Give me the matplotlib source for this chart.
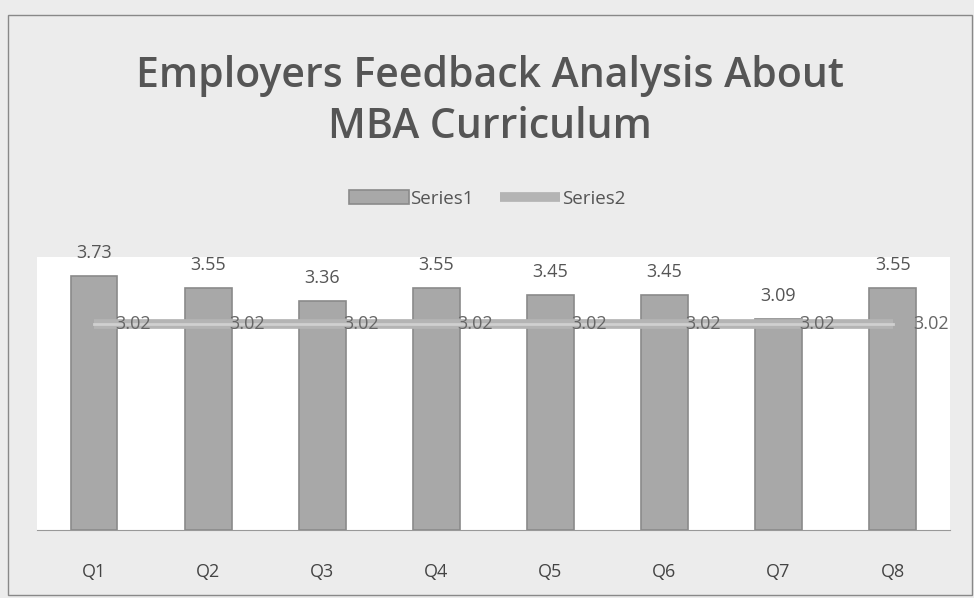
import matplotlib
matplotlib.use("Agg")
import matplotlib.pyplot as plt
import numpy as np

categories = ["Q1", "Q2", "Q3", "Q4", "Q5", "Q6", "Q7", "Q8"]
series1 = [3.73, 3.55, 3.36, 3.55, 3.45, 3.45, 3.09, 3.55]
series2 = [3.02, 3.02, 3.02, 3.02, 3.02, 3.02, 3.02, 3.02]

plt.rcParams['font.family'] = ['Open Sans', 'DejaVu Sans']

fig = plt.figure(figsize=(9.74, 5.98), dpi=100, facecolor='#ececec')
ax = fig.add_axes([0.038, 0.114, 0.937, 0.456])
ax.set_facecolor('white')

x = np.arange(len(categories))
bars = ax.bar(x, series1, width=0.41, color='#a8a8a8', edgecolor='#8a8a8a',
              linewidth=1.2, label='Series1', zorder=2)
line, = ax.plot(x, series2, color='#b4b4b4', linewidth=7, solid_capstyle='butt',
                label='Series2', zorder=3)
ax.plot(x, series2, color='#d0d0d0', linewidth=2, zorder=3)

for xi, v in zip(x, series1):
    ax.annotate(f"{v:.2f}", (xi, v), xytext=(0, 10), textcoords='offset points',
                ha='center', va='bottom', fontsize=13, color='#555555')
for xi, v in zip(x, series2):
    ax.annotate(f"{v:.2f}", (xi, v), xytext=(15, 0), textcoords='offset points',
                ha='left', va='center', fontsize=13, color='#666666', zorder=4)

ax.set_xlim(-0.5, len(categories) - 0.5)
ax.set_ylim(0, 4)
ax.set_yticks([])
ax.set_xticks(x)
ax.set_xticklabels(categories, fontsize=13, color='#444444')
ax.tick_params(axis='x', length=0, pad=24)
for s in ['top', 'right', 'left']:
    ax.spines[s].set_visible(False)
ax.spines['bottom'].set_color('#999999')

fig.text(0.503, 0.83, "Employers Feedback Analysis About\nMBA Curriculum",
         ha='center', va='center', fontsize=29.5, fontweight='semibold',
         color='#555555', linespacing=1.3)

fig.legend(handles=[bars, line], labels=['Series1', 'Series2'], loc='center',
           bbox_to_anchor=(0.5, 0.668), ncol=2, frameon=False, fontsize=13.5,
           labelcolor='#555555', handlelength=3.2, handletextpad=0.1,
           columnspacing=1.4)

fig.patches.append(plt.Rectangle((0.008, 0.005), 0.99, 0.97, transform=fig.transFigure,
                                 fill=False, edgecolor='#888888', linewidth=1))

fig.savefig("out.png", dpi=100, facecolor=fig.get_facecolor())
